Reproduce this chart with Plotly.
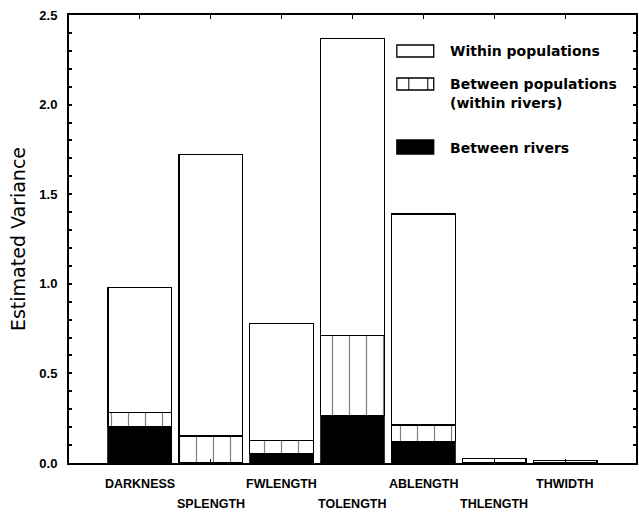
import plotly.graph_objects as go

# Variance components per trait (stacked segments, bottom to top)
traits = ["DARKNESS", "SPLENGTH", "FWLENGTH", "TOLENGTH", "ABLENGTH", "THLENGTH", "THWIDTH"]
between_rivers = [0.205, 0.0, 0.053, 0.266, 0.117, 0.0, 0.0]
between_pops = [0.078, 0.151, 0.072, 0.444, 0.095, 0.0, 0.0]
within_pops = [0.697, 1.569, 0.655, 1.660, 1.178, 0.025, 0.015]

ytick_vals = [0.0, 0.5, 1.0, 1.5, 2.0, 2.5]
ytick_text = ["0.0", "0.5", "1.0", "1.5", "2.0", "2.5"]

xpos = list(range(len(traits)))

W, H = 639, 513
ML, MR, MT, MB = 69, 1, 15, 50
PW, PH = W - ML - MR, H - MT - MB


def px_x(x):
    return (x - ML) / PW


def px_y(y):
    return (H - MB - y) / PH


bar_line = dict(color="black", width=1.3)

fig = go.Figure()
fig.add_trace(go.Bar(
    x=xpos, y=between_rivers, width=0.9, name="Between rivers",
    marker=dict(color="black", line=dict(color="black", width=0.8)),
))
fig.add_trace(go.Bar(
    x=xpos, y=between_pops, width=0.9, name="Between populations (within rivers)",
    marker=dict(color="white", line=bar_line,
                pattern=dict(shape="|", fgcolor="black", bgcolor="white",
                             size=17, solidity=0.07)),
))
fig.add_trace(go.Bar(
    x=xpos, y=within_pops, width=0.9, name="Within populations",
    marker=dict(color="white", line=bar_line),
))

# Staggered trait labels under the axis
for i, name in enumerate(traits):
    fig.add_annotation(
        x=xpos[i], y=0, xref="x", yref="paper", yanchor="top",
        yshift=-12 if i % 2 == 0 else -32, showarrow=False, text=name,
        font=dict(family="Liberation Sans", size=12.5, color="black", weight="bold"),
    )

# Legend keys
shapes = []
keys = [(45, 57), (78, 90), (140, 154)]
for k, (y0, y1) in enumerate(keys):
    shapes.append(dict(
        type="rect", xref="paper", yref="paper",
        x0=px_x(398), x1=px_x(435), y0=px_y(y1), y1=px_y(y0),
        line=dict(color="black", width=1.3),
        fillcolor="black" if k == 2 else "white",
    ))
for lx in (410, 429):
    shapes.append(dict(
        type="line", xref="paper", yref="paper",
        x0=px_x(lx), x1=px_x(lx), y0=px_y(90), y1=px_y(78),
        line=dict(color="black", width=1),
    ))

legend_font = dict(family="DejaVu Sans", size=14, color="black", weight="bold")
for txt, yc in [("Within populations", 51), ("Between populations", 84),
                ("(within rivers)", 103), ("Between rivers", 148)]:
    fig.add_annotation(
        x=px_x(449), y=px_y(yc), xref="paper", yref="paper",
        xanchor="left", yanchor="middle", showarrow=False, text=txt, font=legend_font,
    )

fig.update_layout(
    width=W, height=H,
    margin=dict(l=ML, r=MR, t=MT, b=MB),
    barmode="stack", showlegend=False,
    plot_bgcolor="white", paper_bgcolor="white",
    shapes=shapes,
    xaxis=dict(
        range=[-1, 7], tickvals=xpos, showticklabels=False,
        ticks="inside", ticklen=4, tickwidth=1, tickcolor="black",
        showline=True, linecolor="black", linewidth=2, mirror="allticks",
        showgrid=False, zeroline=False,
    ),
    yaxis=dict(
        range=[0, 2.5], tickvals=ytick_vals, ticktext=ytick_text,
        ticks="inside", ticklen=3, tickwidth=1.5, tickcolor="black",
        minor=dict(dtick=0.1, ticks="inside", ticklen=3, tickwidth=1.5, tickcolor="black"),
        showline=True, linecolor="black", linewidth=2, mirror="allticks",
        showgrid=False, zeroline=False,
        tickfont=dict(family="Liberation Sans", size=13, color="black", weight="bold"),
        ticklabelstandoff=7,
        title=dict(text="Estimated Variance", standoff=9,
                   font=dict(family="DejaVu Sans", size=19, color="black")),
    ),
)

fig.write_html("out.html")
